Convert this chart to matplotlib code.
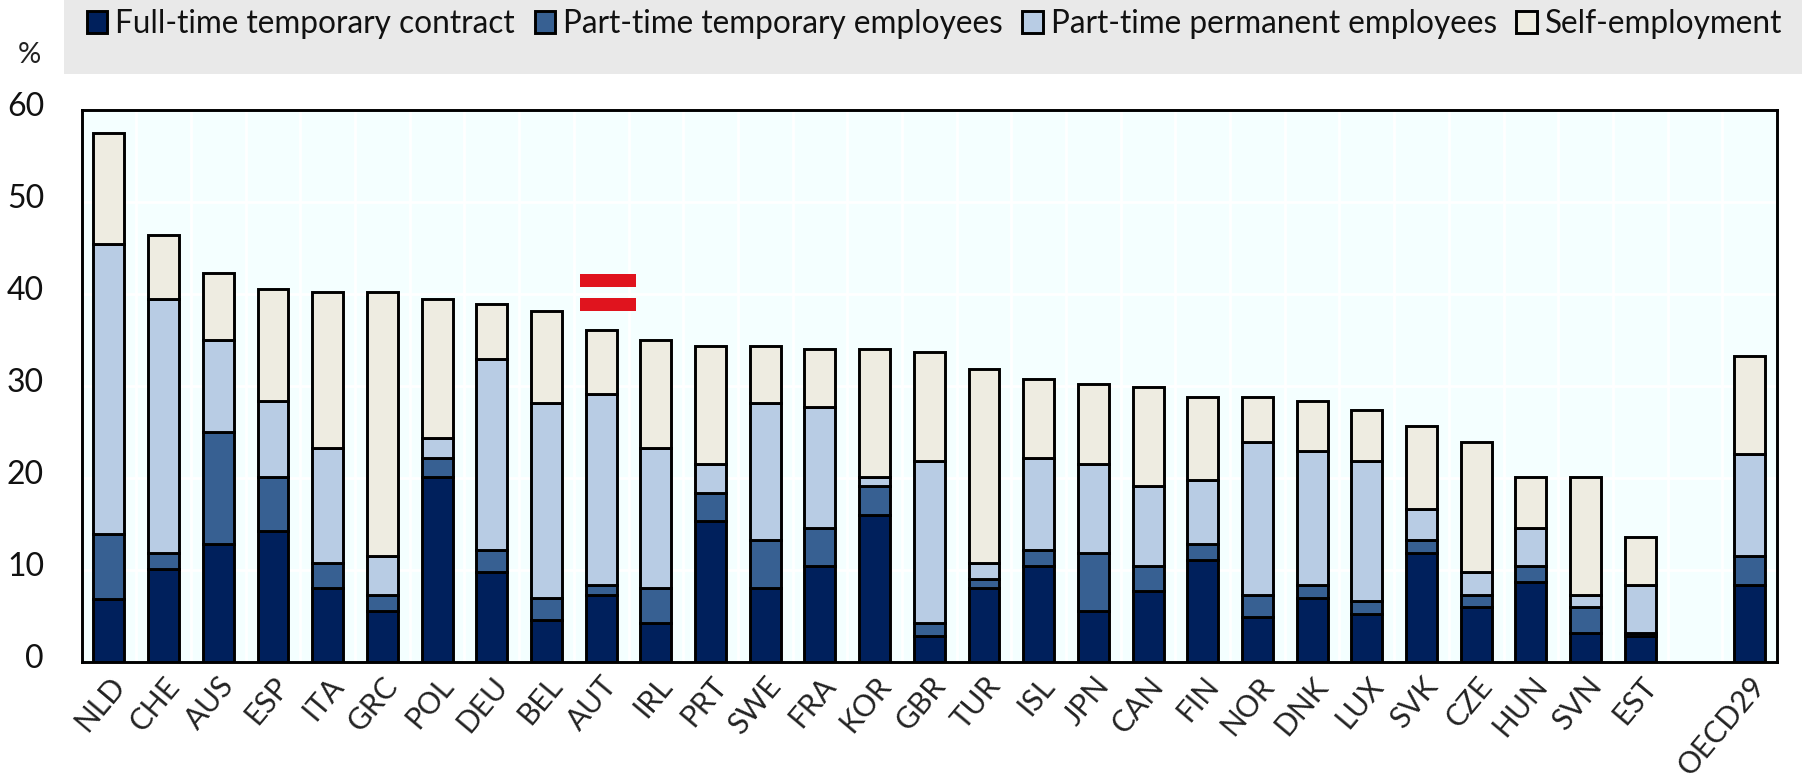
import matplotlib
matplotlib.use("Agg")
import matplotlib.pyplot as plt
from matplotlib.patches import Rectangle
from matplotlib.transforms import ScaledTranslation
import numpy as np

countries = ["NLD","CHE","AUS","ESP","ITA","GRC","POL","DEU","BEL","AUT","IRL","PRT","SWE","FRA","KOR","GBR","TUR","ISL","JPN","CAN","FIN","NOR","DNK","LUX","SVK","CZE","HUN","SVN","EST","","OECD29"]
full_time_temp = [6.9,10.1,12.8,14.2,8.0,5.5,20.1,9.8,4.6,7.3,4.2,15.3,8.0,10.4,16.0,2.8,8.0,10.4,5.5,7.7,11.1,4.9,7.0,5.2,11.85,6.0,8.7,3.15,2.8,0,8.4]
part_time_temp = [7.0,1.75,12.2,5.9,2.76,1.8,2.1,2.4,2.4,1.1,3.8,3.1,5.3,4.2,3.1,1.4,1.0,1.8,6.35,2.7,1.7,2.4,1.4,1.4,1.45,1.3,1.7,2.85,0.35,0,3.1]
part_time_perm = [31.5,27.65,9.97,8.3,12.5,4.2,2.1,20.7,21.15,20.7,15.26,3.1,14.85,13.1,1.0,17.65,1.76,10.0,9.65,8.7,7.0,16.6,14.5,15.25,3.3,2.5,4.2,1.3,5.25,0,11.1]
self_employed = [12.1,6.9,7.28,12.1,16.94,28.7,15.2,6.0,9.95,6.95,11.71,12.8,6.15,6.3,13.9,11.81,21.14,8.6,8.7,10.75,9.0,4.9,5.5,5.55,9.05,14.1,5.5,12.8,5.2,0,10.7]
series_names = ["Full-time temporary contract","Part-time temporary employees","Part-time permanent employees","Self-employment"]
colors = ["#00205C","#376092","#B8CCE4","#EEECE1"]
yticks = [0,10,20,30,40,50,60]

W, H = 1802, 782
plt.rcParams["font.family"] = ["Lato","DejaVu Sans"]
fig = plt.figure(figsize=(W/100, H/100), dpi=100, facecolor="white")
L, R, T, B = 81.6, 1777, 110, 662
ax = fig.add_axes([L/W, (H-B)/H, (R-L)/W, (B-T)/H], facecolor="#F4FFFF")

fig.patches.append(Rectangle((64/W, (H-74)/H), (W-64)/W, 74/H, transform=fig.transFigure, facecolor="#E9E9E9", edgecolor="none", zorder=0))

x = np.arange(len(countries))
bottom = np.zeros(len(countries))
handles = []
for vals, c, name in zip([full_time_temp, part_time_temp, part_time_perm, self_employed], colors, series_names):
    v = np.array(vals, dtype=float)
    mask = v > 0
    bars = ax.bar(x[mask], v[mask], 0.565, bottom=bottom[mask], color=c, edgecolor="black", linewidth=2.1, zorder=3, label=name)
    handles.append(bars)
    bottom += v

ax.set_xlim(-0.5, 30.5)
ax.set_ylim(0, 60)
ax.set_yticks(yticks)
ax.set_xticks(x[[i for i, c in enumerate(countries) if c]])
ax.set_xticklabels([c for c in countries if c], rotation=50, ha="right", rotation_mode="anchor", color="#222222", fontsize=21.5)
ax.tick_params(axis="x", length=0, pad=7)
ax.tick_params(axis="y", length=0, pad=27, labelsize=23, labelcolor="#111111")
shift = ScaledTranslation(0, 5.5/100, fig.dpi_scale_trans)
for lab in ax.get_yticklabels():
    lab.set_transform(lab.get_transform() + shift)
ax.set_xticks(np.arange(-0.5, 31, 1), minor=True)
ax.tick_params(axis="x", which="minor", length=0)
ax.grid(True, which="minor", axis="x", color="white", linewidth=2, zorder=1)
ax.grid(True, which="major", axis="y", color="white", linewidth=2, zorder=1)
ax.grid(False, which="major", axis="x")
ax.set_axisbelow(True)
for s in ax.spines.values():
    s.set_linewidth(2.1)
    s.set_color("black")
    s.set_zorder(5)

for y0, y1 in [(40.76, 42.17), (38.15, 39.57)]:
    ax.add_patch(Rectangle((8.61, y0), 1.03, y1-y0, facecolor="#E0141E", edgecolor="none", zorder=4))

fig.text(29/W, (H-55)/H, "%", ha="center", va="center", fontsize=21, color="#222222")

leg = fig.legend(handles=handles, labels=series_names, ncol=4, loc="center left",
                 bbox_to_anchor=(87/W, (H-24)/H), frameon=False, fontsize=22.7,
                 handlelength=0.65, handleheight=0.72, handletextpad=0.25, columnspacing=0.62,
                 labelcolor="#111111", borderpad=0, borderaxespad=0)
fig.savefig("out.png", dpi=100, facecolor="white")
